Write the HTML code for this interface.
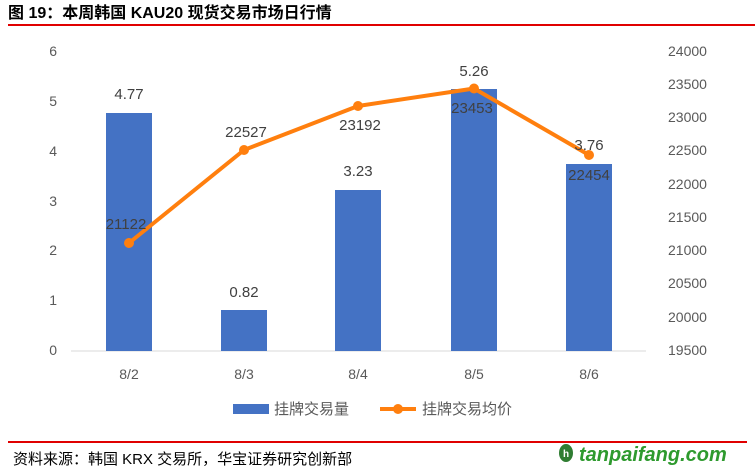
<!DOCTYPE html>
<html><head><meta charset="utf-8"><style>
body{margin:0;width:755px;height:471px;background:#fff;overflow:hidden}
svg{display:block}
text{font-family:"Liberation Sans","Noto Sans CJK SC",sans-serif}
</style></head><body>
<svg width="755" height="471" viewBox="0 0 755 471">
<text x="8" y="18" font-size="16" font-weight="bold" fill="#000">图 19：本周韩国 KAU20 现货交易市场日行情</text>
<rect x="8" y="24" width="747" height="2" fill="#e00000"/>
<g font-size="14" fill="#595959">
<text x="57" y="56" text-anchor="end">6</text>
<text x="57" y="106" text-anchor="end">5</text>
<text x="57" y="156" text-anchor="end">4</text>
<text x="57" y="206" text-anchor="end">3</text>
<text x="57" y="255" text-anchor="end">2</text>
<text x="57" y="305" text-anchor="end">1</text>
<text x="57" y="355" text-anchor="end">0</text>
<text x="668" y="56">24000</text>
<text x="668" y="89">23500</text>
<text x="668" y="122">23000</text>
<text x="668" y="155">22500</text>
<text x="668" y="189">22000</text>
<text x="668" y="222">21500</text>
<text x="668" y="255">21000</text>
<text x="668" y="288">20500</text>
<text x="668" y="322">20000</text>
<text x="668" y="355">19500</text>
<text x="129" y="379" text-anchor="middle">8/2</text>
<text x="244" y="379" text-anchor="middle">8/3</text>
<text x="358" y="379" text-anchor="middle">8/4</text>
<text x="474" y="379" text-anchor="middle">8/5</text>
<text x="589" y="379" text-anchor="middle">8/6</text>
</g>
<line x1="71" y1="351" x2="646" y2="351" stroke="#d9d9d9"/>
<g fill="#4472c4">
<rect x="106" y="113" width="46" height="238"/>
<rect x="221" y="310" width="46" height="41"/>
<rect x="335" y="190" width="46" height="161"/>
<rect x="451" y="89" width="46" height="262"/>
<rect x="566" y="164" width="46" height="187"/>
</g>
<polyline points="129,243 244,150 358,106 474,88.5 589,155" fill="none" stroke="#ff7f0e" stroke-width="4" stroke-linejoin="round"/>
<g fill="#ff7f0e">
<circle cx="129" cy="243" r="5"/><circle cx="244" cy="150" r="5"/><circle cx="358" cy="106" r="5"/><circle cx="474" cy="88.5" r="5"/><circle cx="589" cy="155" r="5"/>
</g>
<g font-size="15" fill="#404040" text-anchor="middle">
<text x="129" y="99">4.77</text>
<text x="244" y="297">0.82</text>
<text x="358" y="176">3.23</text>
<text x="474" y="76">5.26</text>
<text x="589" y="150">3.76</text>
<text x="126" y="229">21122</text>
<text x="246" y="137">22527</text>
<text x="360" y="130">23192</text>
<text x="472" y="113">23453</text>
<text x="589" y="180">22454</text>
</g>
<rect x="233" y="404" width="36" height="10" fill="#4472c4"/>
<text x="274" y="414" font-size="15" fill="#595959">挂牌交易量</text>
<line x1="380" y1="409" x2="416" y2="409" stroke="#ff7f0e" stroke-width="4"/>
<circle cx="398" cy="409" r="5" fill="#ff7f0e"/>
<text x="422" y="414" font-size="15" fill="#595959">挂牌交易均价</text>
<rect x="8" y="441" width="739" height="2" fill="#e00000"/>
<text x="13" y="464" font-size="15" fill="#000">资料来源：韩国 KRX 交易所，华宝证券研究创新部</text>
<ellipse cx="394" cy="452" rx="0" ry="0"/>
<ellipse cx="395" cy="452" rx="0" ry="0"/>
<ellipse cx="394" cy="452" rx="0" ry="0"/>
<ellipse cx="392" cy="452" rx="0" ry="0"/>
<ellipse cx="393" cy="452" rx="0" ry="0"/>
<ellipse cx="394" cy="452" rx="0" ry="0"/>
<ellipse cx="568" cy="452" rx="0" ry="0"/>
<ellipse cx="395" cy="452" rx="0" ry="0"/>
<ellipse cx="395" cy="452" rx="0" ry="0"/>
<ellipse cx="394" cy="452" rx="0" ry="0"/>
<ellipse cx="393" cy="452" rx="0" ry="0"/>
<ellipse cx="393" cy="452" rx="0" ry="0"/>
<ellipse cx="393" cy="452" rx="0" ry="0"/>
<ellipse cx="393" cy="452" rx="0" ry="0"/>
<ellipse cx="394" cy="452" rx="0" ry="0"/>
<ellipse cx="565" cy="452" rx="0" ry="0"/>
<ellipse cx="566" cy="453" rx="7" ry="9" fill="#2f7d32"/>
<text x="563" y="457" font-size="10" font-weight="bold" fill="#fff">h</text>
<text x="579" y="461" font-size="20" font-weight="bold" fill="#2e9a2e" font-style="italic">tanpaifang.com</text>
</svg>
</body></html>
